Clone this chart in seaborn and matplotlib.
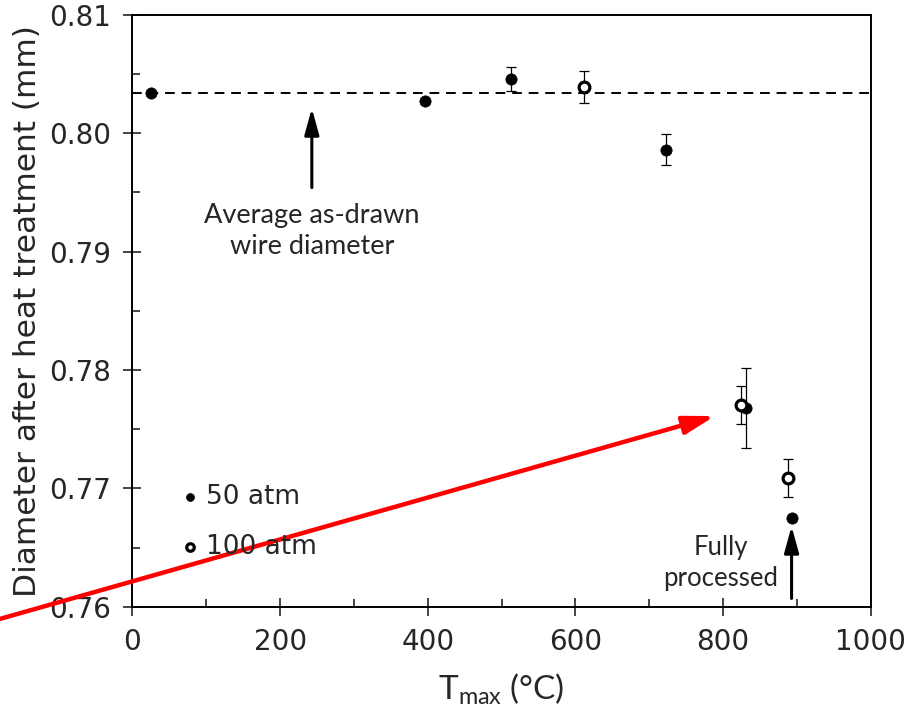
import numpy as np
import pandas as pd
import seaborn as sns
import matplotlib.pyplot as plt
from matplotlib.ticker import MultipleLocator, FormatStrFormatter

# 50 atm (filled)
t50 = [25, 397, 513, 723, 831, 893]
d50 = [0.8034, 0.8027, 0.80455, 0.7986, 0.7768, 0.7675]
e50 = [0.0, 0.0, 0.0010, 0.0013, 0.0034, 0.0]
# 100 atm (open)
t100 = [612, 825, 888]
d100 = [0.8039, 0.7770, 0.7709]
e100 = [0.00135, 0.0016, 0.0016]

avg_drawn = 0.80336
series_labels = ['50 atm', '100 atm']

df50 = pd.DataFrame({'T': t50, 'd': d50, 'err': e50})
df100 = pd.DataFrame({'T': t100, 'd': d100, 'err': e100})

sns.set_style("white")
plt.rcParams['font.family'] = ['DejaVu Sans']
plt.rcParams['mathtext.fontset'] = 'custom'
plt.rcParams['mathtext.rm'] = 'Lato'
plt.rcParams['mathtext.it'] = 'Lato'

fig = plt.figure(figsize=(9.13, 7.21), dpi=100)
ax = fig.add_axes([0.1451, 0.1585, 0.8084, 0.8211])

ax.axhline(avg_drawn, color='black', lw=1.4, ls=(0, (5, 3.5)), zorder=1)

for d in (df50, df100):
    m = d['err'] > 0
    ax.errorbar(d.loc[m, 'T'], d.loc[m, 'd'], yerr=d.loc[m, 'err'], fmt='none',
                ecolor='black', elinewidth=0.9, capsize=3.3, capthick=0.9, zorder=2)

sns.scatterplot(data=df50, x='T', y='d', ax=ax, color='black', s=66,
                edgecolor='black', linewidth=0.5, label=series_labels[0], zorder=3)
sns.scatterplot(data=df100, x='T', y='d', ax=ax, facecolor='white', s=60,
                edgecolor='black', linewidth=2.3, label=series_labels[1], zorder=4)

ax.set_xlim(0, 1000)
ax.set_ylim(0.76, 0.81)
ax.xaxis.set_major_locator(MultipleLocator(200))
ax.xaxis.set_minor_locator(MultipleLocator(100))
ax.yaxis.set_major_locator(MultipleLocator(0.01))
ax.yaxis.set_minor_locator(MultipleLocator(0.005))
ax.yaxis.set_major_formatter(FormatStrFormatter('%.2f'))
ax.tick_params(which='major', direction='inout', length=13, width=1.2,
               labelsize=20, pad=9, bottom=True, left=True)
ax.tick_params(which='minor', direction='in', length=6, width=1.2,
               bottom=True, left=True)
for sp in ax.spines.values():
    sp.set_color('black')
    sp.set_linewidth(1.4)

ax.set_xlabel(r'T$_{\mathrm{max}}$ (°C)', fontsize=24, family='Lato', labelpad=11)
ax.set_ylabel('Diameter after heat treatment (mm)', fontsize=22.5, labelpad=5)

leg = ax.legend(loc='upper left', bbox_to_anchor=(0.046, 0.225), frameon=False,
                fontsize=19, markerscale=0.7, handlelength=1.0, handletextpad=0.1,
                labelspacing=0.9, borderaxespad=0)

arrow_k = dict(arrowstyle='-|>,head_length=0.8,head_width=0.22', color='black',
               lw=2.2, mutation_scale=20, shrinkA=0, shrinkB=0)
ax.annotate('', xy=(243, 0.8021), xytext=(243, 0.7954), arrowprops=arrow_k)
ax.text(243, 0.7917, 'Average as-drawn\nwire diameter', ha='center', va='center',
        family='Lato', fontsize=19.5, linespacing=1.3)
ax.annotate('', xy=(893, 0.7668), xytext=(893, 0.7607), arrowprops=arrow_k)
ax.text(797, 0.7637, 'Fully\nprocessed', ha='center', va='center',
        family='Lato', fontsize=18.5, linespacing=1.3)

# red pointer running in from the left edge of the figure
ax.annotate('', xy=(789, 0.7761), xytext=(-0.01, 0.138), textcoords='figure fraction',
            annotation_clip=False,
            arrowprops=dict(arrowstyle='-|>,head_length=0.75,head_width=0.22',
                            color='#ff0000', lw=3.2, mutation_scale=25,
                            shrinkA=0, shrinkB=0))

fig.savefig('out.png', dpi=100)
